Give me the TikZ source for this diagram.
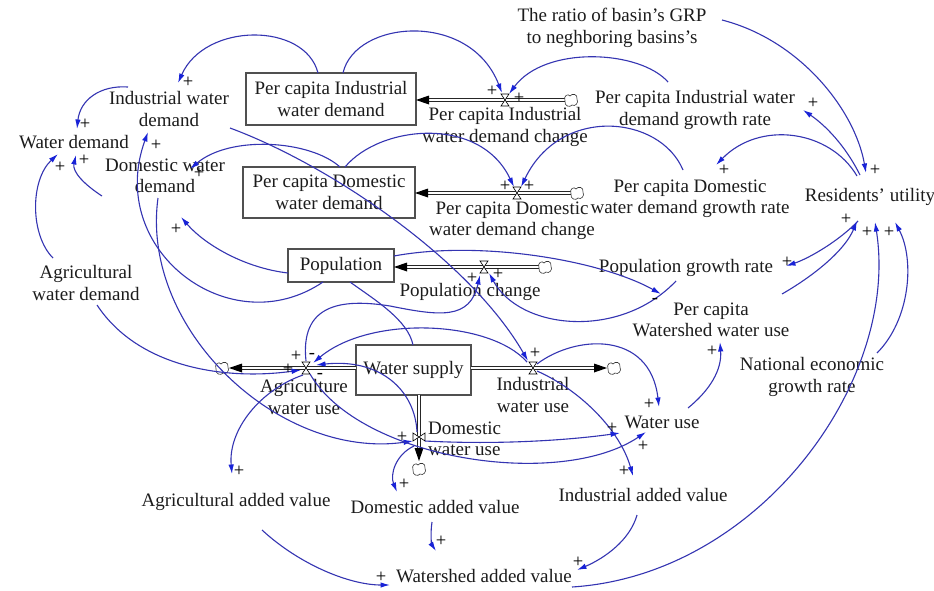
\documentclass[tikz,border=0pt]{standalone}
\usepackage{fontspec}
\setmainfont{Liberation Serif}
\usetikzlibrary{arrows.meta}
\definecolor{linkblue}{RGB}{52,52,178}
\definecolor{tipblue}{RGB}{25,35,215}
\definecolor{ink}{RGB}{28,28,28}
\definecolor{boxgray}{RGB}{80,80,80}
\tikzset{
  lbl/.style={align=center, font=\fontsize{19}{21.5}\selectfont, text=ink, inner sep=0pt},
  stock/.style={draw=boxgray, line width=1.3pt, align=center, inner sep=0pt,
    font=\fontsize{19}{22.5}\selectfont, text=ink},
  link/.style={draw=linkblue, line width=1.1pt, -{Latex[length=9.5pt,width=5.5pt,color=tipblue]}},
  wire/.style={draw=linkblue, line width=1.1pt},
  sgn/.style={font=\fontsize{18.5}{18.5}\selectfont, text=black, inner sep=0pt},
  pipe/.style={draw=black!85, double=white, double distance=2.6pt, line width=0.8pt},
  valve/.pic={\draw[black, line width=0.6pt, fill=white] (-4,-6) -- (4,-6) -- (-4,6) -- (4,6) -- cycle;},
  cloud/.pic={\draw[black!80, line width=0.6pt, fill=white]
    (-6,1) .. controls (-8,-4) and (-3,-7) .. (-1,-4)
    .. controls (1,-7) and (7,-6) .. (6,-1)
    .. controls (8,3) and (4,7) .. (1,5)
    .. controls (-1,8) and (-7,6) .. (-6,1) -- cycle;}
}
\begin{document}
\begin{tikzpicture}[x=1pt,y=-1pt]
\fill[white] (0,0) rectangle (934,590);
\useasboundingbox (0,0) rectangle (934,590);

% ---------- stocks ----------
\node[stock, minimum width=170pt, minimum height=52pt] (pciwd) at (331,99) {Per capita Industrial\\water demand};
\node[stock, minimum width=172pt, minimum height=51pt] (pcdwd) at (329,192.5) {Per capita Domestic\\water demand};
\node[stock, minimum width=106pt, minimum height=33pt] (pop) at (341,265.5) {Population};
\node[stock, minimum width=115pt, minimum height=50pt] (ws) at (413.5,370) {Water supply};

% ---------- flow geometry ----------
\coordinate (v1) at (505,100);  \coordinate (cl1) at (571,100); \coordinate (pciwd-in) at (416,100);
\coordinate (v2) at (517,193);  \coordinate (cl2) at (577,193); \coordinate (pcdwd-in) at (415,193);
\coordinate (v3) at (484,267);  \coordinate (cl3) at (545,267); \coordinate (pop-in) at (394,267);
\coordinate (va) at (306,368);  \coordinate (cla) at (222,368); \coordinate (ws-w) at (356,368); \coordinate (cla-tip) at (229,368);
\coordinate (vi) at (533,368);  \coordinate (cli) at (614,368); \coordinate (ws-e) at (471,368); \coordinate (cli-tip) at (607,368);
\coordinate (vd) at (419,437);  \coordinate (cld) at (419,469); \coordinate (ws-s) at (419,395); \coordinate (cld-tip) at (419,461);

% pipes
\draw[pipe] (cl1) -- ([xshift=13pt]pciwd-in);
\draw[pipe] (cl2) -- ([xshift=13pt]pcdwd-in);
\draw[pipe] (cl3) -- ([xshift=13pt]pop-in);
\draw[pipe] (ws-w) -- ([xshift=13pt]cla-tip);
\draw[pipe] (ws-e) -- ([xshift=-13pt]cli-tip);
\draw[pipe] (ws-s) -- ([yshift=13pt]cld-tip);
% pipe heads
\fill[black] (pciwd-in) -- ++(13,-4.5) -- ++(0,9) -- cycle;
\fill[black] (pcdwd-in) -- ++(13,-4.5) -- ++(0,9) -- cycle;
\fill[black] (pop-in) -- ++(13,-4.5) -- ++(0,9) -- cycle;
\fill[black] (cla-tip) -- ++(13,-4.5) -- ++(0,9) -- cycle;
\fill[black] (cli-tip) -- ++(-13,-4.5) -- ++(0,9) -- cycle;
\fill[black] (cld-tip) -- ++(-4.5,-13) -- ++(9,0) -- cycle;
% valves and clouds
\pic at (v1) {valve}; \pic at (v2) {valve}; \pic at (v3) {valve};
\pic at (va) {valve}; \pic at (vi) {valve}; \pic[rotate=90] at (vd) {valve};
\pic at (cl1) {cloud}; \pic at (cl2) {cloud}; \pic at (cl3) {cloud};
\pic at (cla) {cloud}; \pic at (cli) {cloud}; \pic at (cld) {cloud};

% ---------- labels ----------
\node[lbl] (grp) at (612,28) {The ratio of basin's GRP\\to neghboring basins's};
\node[lbl] (pcigr) at (695,110) {Per capita Industrial water\\demand growth rate};
\node[lbl] (pcdgr) at (690,199) {Per capita Domestic\\water demand growth rate};
\node[lbl] (ru) at (870,197) {Residents' utility};
\node[lbl] (pgr) at (686,268) {Population growth rate};
\node[lbl] (pcwu) at (711,320) {Per capita\\Watershed water use};
\node[lbl] (negr) at (812,377) {National economic\\growth rate};
\node[lbl] (wu) at (662,422) {Water use};
\node[lbl] (iwd) at (169,109) {Industrial water\\demand};
\node[lbl] (wd) at (74,142) {Water demand};
\node[lbl] (dwd) at (165,176) {Domestic water\\demand};
\node[lbl] (awd) at (86,283) {Agricultural\\water demand};
\node[lbl] (aav) at (236,502) {Agricultural added value};
\node[lbl] (dav) at (435,507) {Domestic added value};
\node[lbl] (iav) at (643,495) {Industrial added value};
\node[lbl] (wav) at (484,576) {Watershed added value};
\node[lbl] (v1lbl) at (505,127) {Per capita Industrial\\water demand change};
\node[lbl] (v2lbl) at (512,221) {Per capita Domestic\\water demand change};
\node[lbl] (v3lbl) at (470,292) {Population change};
\node[lbl] (valbl) at (304,397) {Agriculture\\water use};
\node[lbl] (vilbl) at (533,395) {Industrial\\water use};
\node[lbl, align=left, anchor=west] (vdlbl) at (428,439) {Domestic\\water use};

% ---------- connector ends ----------
\coordinate (pciwd-n1) at (318,73);   \coordinate (iwd-in1) at (178,83);
\coordinate (pciwd-n2) at (343,73);   \coordinate (v1-a) at (502,93);
\coordinate (pcigr-a) at (668,82);    \coordinate (v1-b) at (509,94);
\coordinate (pcdwd-n1) at (340,167);  \coordinate (dwd-in1) at (190,169);
\coordinate (pcdwd-n2) at (345,167);  \coordinate (v2-a) at (514,187);
\coordinate (pcdgr-a) at (683,170);   \coordinate (v2-b) at (521,187);
\coordinate (iwd-w) at (128,87);      \coordinate (wd-in1) at (77,129);
\coordinate (dwd-w) at (102,196);     \coordinate (wd-in2) at (76,155);
\coordinate (awd-n) at (53,258);      \coordinate (wd-in3) at (58,154);
\coordinate (pop-w) at (288,273);     \coordinate (dwd-in2) at (181,217);
\coordinate (pop-s1) at (323,282);    \coordinate (iwd-in2) at (148,132);
\coordinate (dwd-s) at (158,198);     \coordinate (vd-a) at (413,441);
\coordinate (awd-s) at (97,305);      \coordinate (va-a) at (301,370);
\coordinate (iwd-e) at (230,128);     \coordinate (vi-a) at (528,361);
\coordinate (vi-r1) at (537,364);     \coordinate (wu-in1) at (659,407);
\coordinate (vi-r2) at (537,371);     \coordinate (iav-in) at (633,476);
\coordinate (vd-r) at (425,441);      \coordinate (wu-in2) at (620,433);
\coordinate (va-b) at (310,374);      \coordinate (wu-in3) at (646,432);
\coordinate (va-c) at (303,375);      \coordinate (aav-in) at (232,474);
\coordinate (vd-b) at (414,446);      \coordinate (dav-in) at (397,492);
\coordinate (aav-s) at (262,530);     \coordinate (wav-in1) at (390,585);
\coordinate (dav-s) at (432,522);     \coordinate (wav-in2) at (436,551);
\coordinate (iav-s) at (637,515);     \coordinate (wav-in3) at (577,570);
\coordinate (wav-e) at (572,587);     \coordinate (ru-in1) at (875,222);
\coordinate (grp-e) at (722,20);      \coordinate (ru-in2) at (866,173);
\coordinate (ru-n1) at (860,175);     \coordinate (pcigr-in) at (803,110);
\coordinate (ru-n2) at (857,176);     \coordinate (pcdgr-in) at (716,165);
\coordinate (ru-s1) at (858,221);     \coordinate (pgr-in) at (786,266);
\coordinate (pcwu-e) at (782,294);    \coordinate (ru-in3) at (857,221);
\coordinate (negr-e) at (877,353);    \coordinate (ru-in4) at (895,222);
\coordinate (wu-e) at (688,408);      \coordinate (pcwu-in1) at (720,342);
\coordinate (pop-e) at (394,256);     \coordinate (pcwu-in2) at (661,294);
\coordinate (pgr-s) at (676,281);     \coordinate (v3-b) at (489,273);
\coordinate (va-n) at (306,361);      \coordinate (bend) at (390,306);  \coordinate (v3-a) at (480,275);
\coordinate (pop-s3) at (350,282);    \coordinate (ws-n) at (413,345);
\coordinate (vd-t) at (417,432);      \coordinate (va-r1) at (316,365);
\coordinate (vi-l) at (527,362);      \coordinate (va-r2) at (313,363);

% ---------- demand side links ----------
\draw[link] (pciwd-n1) .. controls (305,22) and (205,22) .. (iwd-in1);
\draw[link] (pciwd-n2) .. controls (355,20) and (470,10) .. (v1-a);
\draw[link] (pcigr-a) .. controls (640,50) and (545,45) .. (v1-b);
\draw[link] (pcdwd-n1) .. controls (310,140) and (230,135) .. (dwd-in1);
\draw[link] (pcdwd-n2) .. controls (380,125) and (480,115) .. (v2-a);
\draw[link] (pcdgr-a) .. controls (660,115) and (560,105) .. (v2-b);
\draw[link] (iwd-w) .. controls (100,85) and (80,100) .. (wd-in1);
\draw[link] (dwd-w) .. controls (85,185) and (72,172) .. (wd-in2);
\draw[link] (awd-n) .. controls (30,235) and (30,180) .. (wd-in3);
\draw[link] (pop-w) .. controls (245,268) and (205,245) .. (dwd-in2);
\draw[link] (pop-s1) .. controls (230,345) and (105,250) .. (iwd-in2);
\draw[link] (dwd-s) .. controls (140,330) and (280,460) .. (vd-a);
\draw[link] (awd-s) .. controls (140,370) and (230,380) .. (va-a);
\draw[link] (iwd-e) .. controls (330,165) and (470,260) .. (vi-a);

% ---------- use and value links ----------
\draw[link] (vi-r1) .. controls (575,335) and (650,330) .. (wu-in1);
\draw[link] (vi-r2) .. controls (580,390) and (620,430) .. (iav-in);
\draw[link] (vd-r) .. controls (500,445) and (570,440) .. (wu-in2);
\draw[link] (va-b) .. controls (360,460) and (560,490) .. (wu-in3);
\draw[link] (va-c) .. controls (260,390) and (228,430) .. (aav-in);
\draw[link] (vd-b) .. controls (395,455) and (390,475) .. (dav-in);
\draw[link] (aav-s) .. controls (300,565) and (350,585) .. (wav-in1);
\draw[link] (dav-s) .. controls (430,535) and (432,545) .. (wav-in2);
\draw[link] (iav-s) .. controls (630,540) and (605,558) .. (wav-in3);
\draw[link] (wav-e) .. controls (760,575) and (900,380) .. (ru-in1);
\draw[link] (grp-e) .. controls (800,40) and (855,110) .. (ru-in2);
\draw[link] (ru-n1) .. controls (845,145) and (825,125) .. (pcigr-in);
\draw[link] (ru-n2) .. controls (830,130) and (760,120) .. (pcdgr-in);
\draw[link] (ru-s1) .. controls (840,240) and (810,258) .. (pgr-in);
\draw[link] (pcwu-e) .. controls (815,275) and (845,250) .. (ru-in3);
\draw[link] (negr-e) .. controls (910,320) and (915,260) .. (ru-in4);
\draw[link] (wu-e) .. controls (710,390) and (722,370) .. (pcwu-in1);
\draw[link] (pop-e) .. controls (480,240) and (600,260) .. (pcwu-in2);
\draw[link] (pgr-s) .. controls (620,340) and (520,330) .. (v3-b);
\draw[link] (va-n) .. controls (300,305) and (340,298) .. (bend)
                   .. controls (440,316) and (470,320) .. (v3-a);
\draw[wire] (pop-s3) .. controls (375,300) and (408,320) .. (ws-n);
\draw[link] (vd-t) .. controls (415,390) and (380,358) .. (va-r1);
\draw[link] (vi-l) .. controls (490,320) and (370,315) .. (va-r2);

% ---------- polarity signs ----------
\foreach \p [count=\i] in {(188,82),(492,91),(519,98),(199,173),(505,186),(529,186),
  (85,124),(84,160),(60,167),(176,229),(156,145),(402,437),(288,369),(535,353),
  (649,404),(624,471),(612,428),(643,446),(239,471),(404,484),(381,577),(441,541),
  (578,562),(846,219),(867,232),(889,232),(875,170),(813,103),(724,170),(787,262),
  (712,351),(498,274),(472,278),(296,356)}
  \node[sgn] (plus\i) at \p {+};
\foreach \p [count=\i] in {(312,356),(320,376),(655,301)}
  \node[sgn] (minus\i) at \p {-};
\end{tikzpicture}
\end{document}
